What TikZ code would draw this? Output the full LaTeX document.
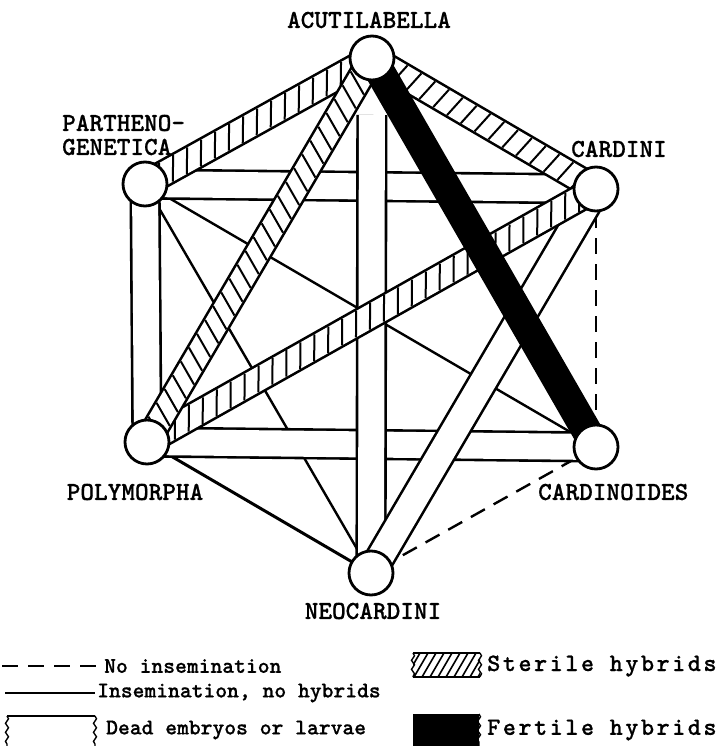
\documentclass[tikz,border=0pt]{standalone}
\usepackage{fontspec}
\newfontfamily\tw{lmmonolt10-bold.otf}[FakeBold=0.6]
\newfontfamily\twsp{lmmonolt10-bold.otf}[LetterSpace=10,FakeBold=0.6]
\usetikzlibrary{decorations.markings,decorations.pathmorphing}
\pgfdeclarelayer{bg}
\pgfdeclarelayer{edges}
\pgfsetlayers{bg,edges,main}
\begin{document}
\begin{tikzpicture}[x=1pt,y=-1pt,
  species/.style={circle,draw,fill=white,line width=2.8pt,minimum size=44pt,inner sep=0pt},
  lbl/.style={font=\tw\fontsize{26}{24}\selectfont,inner sep=0pt},
  leg/.style={font=\tw\fontsize{22.5}{22}\selectfont,inner sep=0pt,anchor=west},
  legsp/.style={font=\twsp\fontsize{25}{22}\selectfont,inner sep=0pt,anchor=west},
  insem/.style={line width=2.4pt},
  noins/.style={line width=2.4pt,dash pattern=on 16pt off 10pt},
  deadband/.style={line width=2.6pt,double=white,double distance=26pt},
  fertband/.style={line width=30pt,black},
  hatchband/.style={line width=2.6pt,double=white,double distance=23pt,
    postaction={decorate,decoration={markings,
      mark=between positions 0 and 1 step 16pt with
      {\draw[line width=2pt,black,solid] (-#1,-11.5pt) -- (#1,11.5pt);}}}},
  wavy/.style={decorate,decoration={snake,amplitude=1.5pt,segment length=9pt}},
]
\useasboundingbox (0,0) rectangle (727,746);
\begin{pgfonlayer}{bg}
\fill[white] (0,0) rectangle (727,746);
\end{pgfonlayer}

% species
\node[species] (A) at (372,58) {};
\node[species] (P) at (145,184) {};
\node[species] (C) at (596,189) {};
\node[species] (PO) at (147,442) {};
\node[species] (CD) at (596,447) {};
\node[species] (N) at (371,573) {};

% labels
\node[lbl] (tA) at (369,20) {ACUTILABELLA};
\node[lbl,align=left,anchor=west] (tP) at (62,135) {PARTHENO-\\GENETICA};
\node[lbl] (tC) at (619,149) {CARDINI};
\node[lbl] (tPO) at (135,492) {POLYMORPHA};
\node[lbl,anchor=west] (tCD) at (538,492) {CARDINOIDES};
\node[lbl] (tN) at (373,611) {NEOCARDINI};

\begin{pgfonlayer}{edges}
% insemination, no hybrids
\draw[insem] (P.center) -- (CD.center);
\draw[insem] (P.center) -- (N.center);
\draw[insem,line width=3pt] (PO.center) -- (N.center);
% no insemination
\draw[noins] (C) -- (CD);
\draw[noins] (CD) -- (N);
% dead embryos or larvae
\draw[deadband] (P.center) -- (PO.center);
\draw[deadband] (P.center) -- (C.center);
\draw[deadband] (PO.center) -- (CD.center);
\draw[deadband,shorten <=57pt] (A.center) -- (N.center);
\draw[deadband] (N.center) -- (C.center);
% sterile hybrids
\draw[hatchband=6.6pt] (P.center) -- (A.center);
\draw[hatchband=2.4pt] (A.center) -- (C.center);
\draw[hatchband=6.6pt] (PO.center) -- (C.center);
\draw[hatchband=6.6pt] (PO.center) -- (A.center);
% fertile hybrids
\draw[fertband] (A.center) -- (CD.center);
\end{pgfonlayer}

% legend
\draw[noins] (2,666) -- (97,666);
\node[leg] (l1) at (104,666) {No insemination};
\draw[insem] (5,693) -- (95,693);
\node[leg] (l2) at (97,693) {Insemination, no hybrids};

\draw[line width=2pt] (7,716) -- (95,716);
\draw[line width=1.4pt,wavy] (7,716) -- (7,746);
\draw[line width=1.4pt,wavy] (95,716) -- (95,746);
\node[leg] (l3) at (106,730) {Dead embryos or larvae};

\begin{scope}
\clip (413,653) rectangle (480,677);
\foreach \i in {0,...,10} \draw[line width=1.6pt] ({398+\i*8},677) -- ++(14,-24);
\end{scope}
\draw[line width=2pt] (413,653) -- (480,653) (413,677) -- (480,677);
\draw[line width=1.4pt,wavy] (413,653) -- (413,677);
\draw[line width=1.4pt,wavy] (480,653) -- (480,677);
\node[legsp] (l4) at (487,666) {Sterile hybrids};

\fill[black] (413,714) rectangle (479,746);
\draw[line width=1.4pt,wavy] (479,714) -- (479,746);
\node[legsp] (l5) at (487,730) {Fertile hybrids};
\end{tikzpicture}
\end{document}
